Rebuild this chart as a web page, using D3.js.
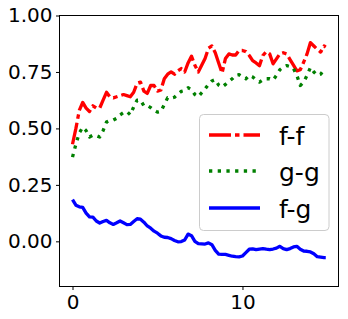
<!DOCTYPE html>
<html>
<head>
<meta charset="utf-8">
<script src="https://cdn.jsdelivr.net/npm/d3@7"></script>
<style>
  html, body { margin: 0; padding: 0; background: #fff; }
  svg { display: block; }
</style>
</head>
<body>
<svg id="chart" width="348" height="319"></svg>
<script>
// ---- data ----
const xValues = [0,0.2,0.4,0.6,0.8,1.0,1.2,1.4,1.6,1.8,2.0,2.2,2.4,2.6,2.8,3.0,3.2,3.4,3.6,3.8,
  4.0,4.2,4.4,4.6,4.8,5.0,5.2,5.4,5.6,5.8,6.0,6.2,6.4,6.6,6.8,7.0,7.2,7.4,7.6,7.8,
  8.0,8.2,8.4,8.6,8.8,9.0,9.2,9.4,9.6,9.8,10.0,10.2,10.4,10.6,10.8,11.0,11.2,11.4,11.6,11.8,
  12.0,12.2,12.4,12.6,12.8,13.0,13.2,13.4,13.6,13.8,14.0,14.2,14.4,14.6,14.8,14.9];

const ff = [0.43,0.50,0.58,0.615,0.59,0.575,0.60,0.59,0.59,0.625,0.66,0.64,0.635,0.64,0.645,0.65,0.645,0.64,0.66,0.70,
  0.705,0.665,0.655,0.69,0.69,0.665,0.67,0.72,0.74,0.75,0.74,0.755,0.765,0.75,0.79,0.82,0.78,0.75,0.78,0.81,
  0.855,0.865,0.835,0.79,0.745,0.81,0.83,0.825,0.825,0.845,0.845,0.84,0.823,0.80,0.79,0.778,0.823,0.84,0.83,0.786,
  0.808,0.83,0.835,0.83,0.805,0.78,0.755,0.76,0.793,0.83,0.88,0.865,0.85,0.838,0.865,0.86];

const gg = [0.373,0.43,0.48,0.505,0.49,0.462,0.47,0.468,0.462,0.49,0.528,0.535,0.537,0.545,0.56,0.57,0.575,0.56,0.595,0.625,
  0.625,0.60,0.601,0.592,0.58,0.572,0.575,0.606,0.636,0.634,0.638,0.652,0.664,0.668,0.68,0.672,0.65,0.64,0.658,0.675,
  0.695,0.71,0.716,0.692,0.683,0.695,0.708,0.72,0.735,0.738,0.728,0.72,0.735,0.728,0.715,0.705,0.715,0.72,0.72,0.714,
  0.735,0.76,0.772,0.778,0.774,0.765,0.735,0.69,0.705,0.735,0.77,0.75,0.735,0.74,0.76,0.758];

const fg = [0.185,0.16,0.153,0.15,0.125,0.108,0.107,0.09,0.081,0.088,0.093,0.082,0.075,0.082,0.09,0.082,0.074,0.075,0.088,0.1,
  0.098,0.085,0.068,0.058,0.045,0.036,0.024,0.018,0.017,0.012,0.004,-0.002,-0.001,0.006,0.032,0.025,0.0,-0.01,-0.011,-0.012,
  -0.007,-0.015,-0.04,-0.057,-0.058,-0.058,-0.062,-0.066,-0.068,-0.069,-0.065,-0.05,-0.035,-0.033,-0.037,-0.034,-0.032,-0.035,-0.037,-0.034,
  -0.03,-0.022,-0.032,-0.037,-0.032,-0.025,-0.022,-0.035,-0.043,-0.044,-0.047,-0.055,-0.068,-0.07,-0.072,-0.072];

const seriesNames = ["f-f", "g-g", "f-g"];
const xTicks = [0, 10];
const yTicks = [0.00, 0.25, 0.50, 0.75, 1.00];
const xDomain = [-0.765, 15.65];
const yDomain = [-0.2, 1.0];

// ---- layout ----
const mLeft = 59.5, mRight = 338.5, mTop = 15.5, mBottom = 286.5;
const svg = d3.select("#chart");
const x = d3.scaleLinear().domain(xDomain).range([mLeft, mRight]);
const y = d3.scaleLinear().domain(yDomain).range([mBottom, mTop]);

const styles = [
  { color: "#ff0000", dash: "22,4,4.5,4" },
  { color: "#008000", dash: "3.3,5.4" },
  { color: "#0000ff", dash: null }
];
const allSeries = [ff, gg, fg];

const line = d3.line().x((d, i) => x(xValues[i])).y(d => y(d));

allSeries.forEach((s, k) => {
  const p = svg.append("path")
    .datum(s)
    .attr("d", line)
    .attr("fill", "none")
    .attr("stroke", styles[k].color)
    .attr("stroke-width", 3.3)
    .attr("stroke-linejoin", "round");
  if (styles[k].dash) p.attr("stroke-dasharray", styles[k].dash);
});

// axes
const font = "'DejaVu Sans', sans-serif";
const xAxis = svg.append("g").attr("transform", `translate(0,${mBottom})`)
  .call(d3.axisBottom(x).tickValues(xTicks).tickSize(3.5).tickPadding(5).tickFormat(d3.format("d")));
const yAxis = svg.append("g").attr("transform", `translate(${mLeft},0)`)
  .call(d3.axisLeft(y).tickValues(yTicks).tickSize(3.5).tickPadding(3.5).tickFormat(d3.format(".2f")));
[xAxis, yAxis].forEach(g => {
  g.select(".domain").remove();
  g.selectAll("text").attr("font-family", font).attr("font-size", 20).attr("fill", "#000");
  g.selectAll("line").attr("stroke", "#000").attr("stroke-width", 1);
});
xAxis.selectAll("text").attr("dy", "0.72em");

// frame
svg.append("rect").attr("x", mLeft).attr("y", mTop)
  .attr("width", mRight - mLeft).attr("height", mBottom - mTop)
  .attr("fill", "none").attr("stroke", "#000").attr("stroke-width", 1);

// legend
const lg = svg.append("g");
lg.append("rect").attr("x", 199.5).attr("y", 114.5).attr("width", 129.5).attr("height", 116)
  .attr("rx", 4).attr("fill", "#fff").attr("fill-opacity", 0.8)
  .attr("stroke", "#cccccc").attr("stroke-width", 1);
const rowY = [135, 171, 208];
seriesNames.forEach((name, k) => {
  const l = lg.append("line").attr("x1", 209).attr("x2", 260)
    .attr("y1", rowY[k]).attr("y2", rowY[k])
    .attr("stroke", styles[k].color).attr("stroke-width", 3.3);
  if (styles[k].dash) l.attr("stroke-dasharray", styles[k].dash);
  lg.append("text").attr("x", 279).attr("y", rowY[k] + 9.5)
    .attr("font-family", font).attr("font-size", 25).attr("fill", "#000")
    .text(name);
});
</script>
</body>
</html>
